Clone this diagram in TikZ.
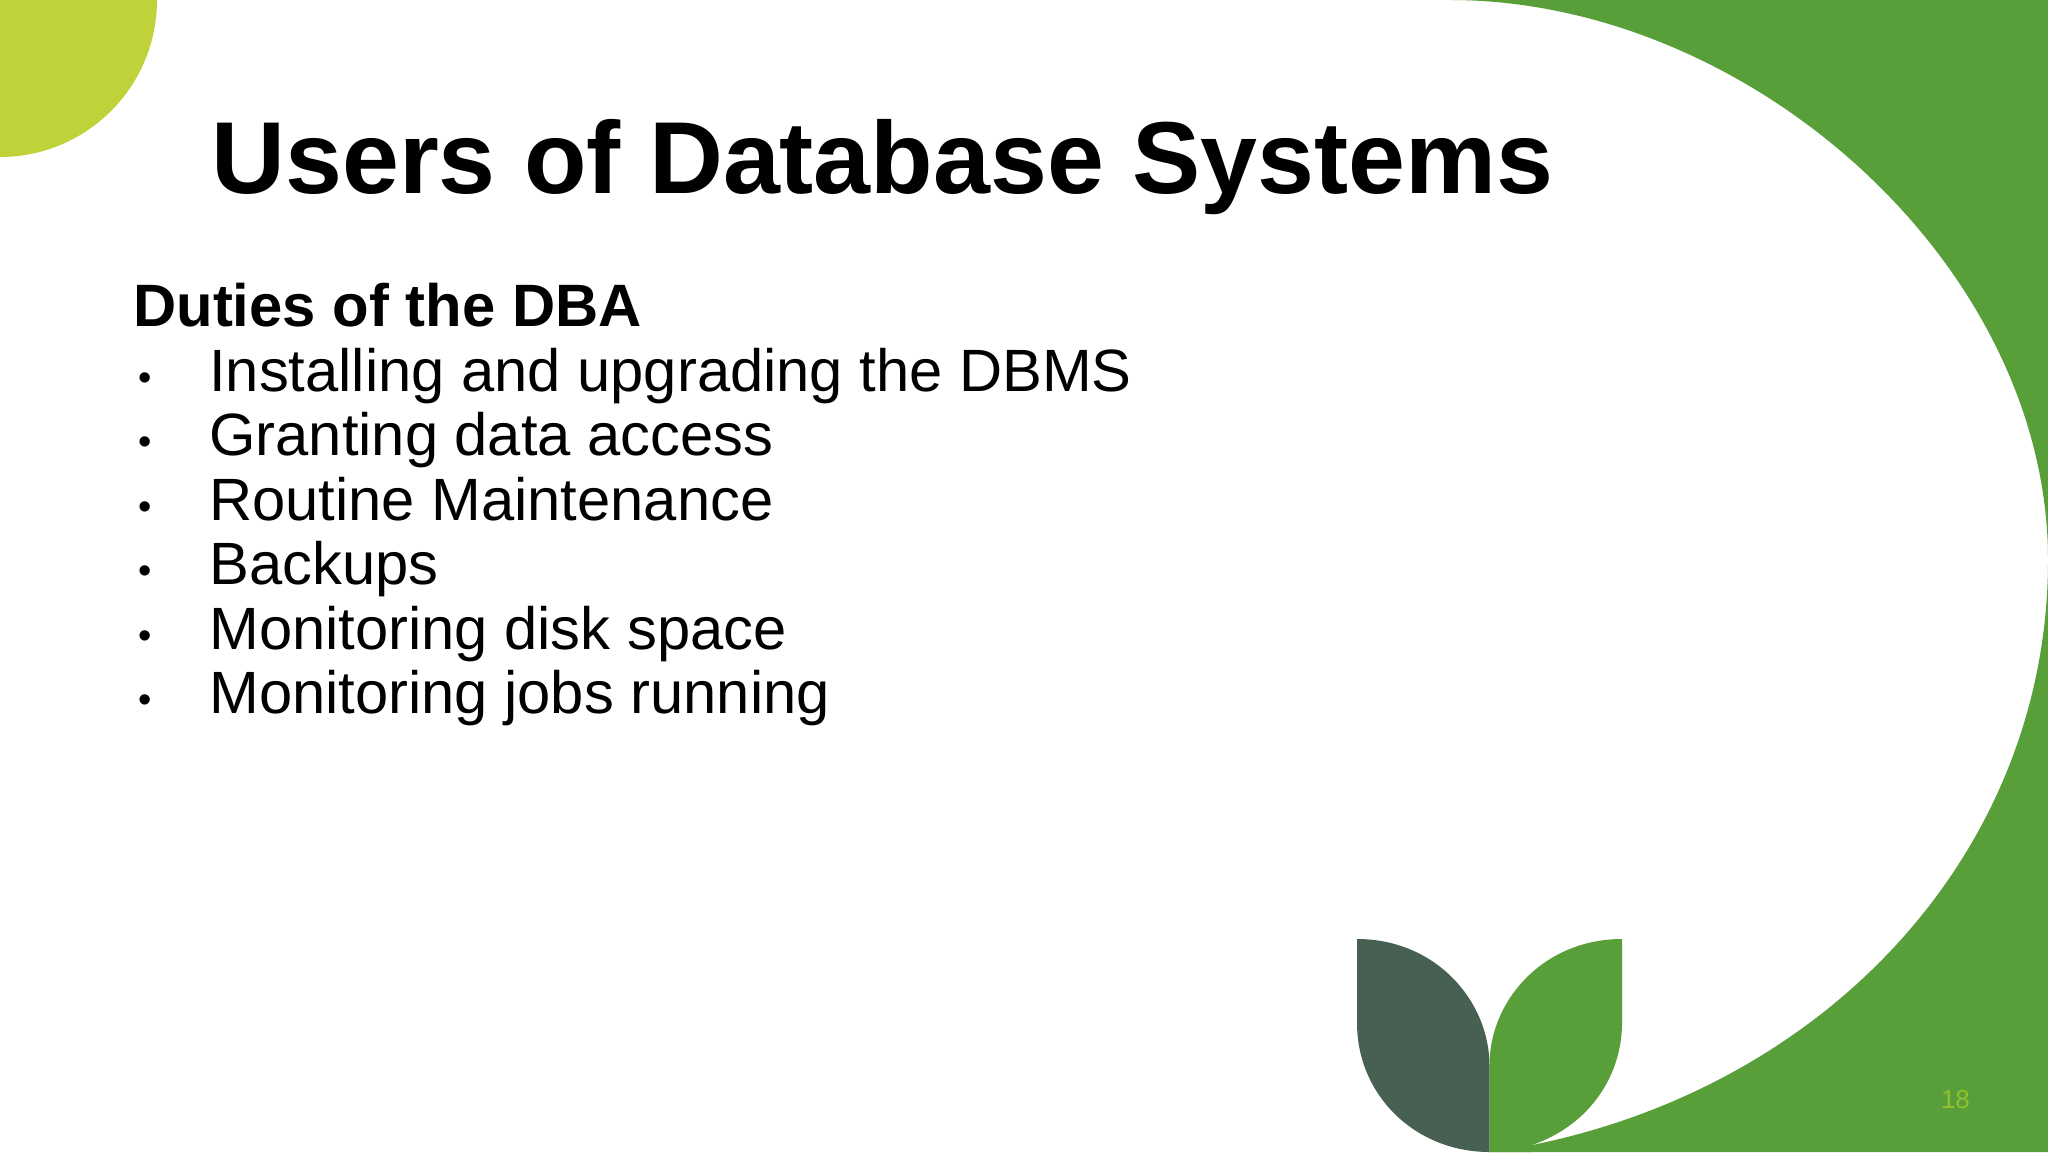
\documentclass[tikz,border=0pt]{standalone}
\usepackage{fontspec}
\setmainfont{Liberation Sans}
\definecolor{leafgreen}{HTML}{589F3A}
\definecolor{leafdark}{HTML}{486052}
\definecolor{lime}{HTML}{BFD239}
\definecolor{numgreen}{HTML}{92BF2E}
\tikzset{
  txt/.style={anchor=base west,inner sep=0pt,outer sep=0pt,text=black},
  titletxt/.style={txt,font=\fontsize{102.3}{102.3}\selectfont\bfseries},
  headtxt/.style={txt,font=\fontsize{59.8}{60}\selectfont\bfseries},
  itemtxt/.style={txt,font=\fontsize{59.7}{60}\selectfont},
  bullettxt/.style={txt,font=\fontsize{38}{38}\selectfont},
}
\begin{document}
\begin{tikzpicture}[x=1pt,y=-1pt]
\useasboundingbox (0,0) rectangle (2048,1152);
\fill[white] (0,0) rectangle (2048,1152);
% lime corner
\fill[lime] (0,0) -- (157,0) arc[start angle=0,end angle=90,radius=157] -- cycle;
% big green
\fill[leafgreen] (1450,0) .. controls (1750,0) and (2048,265) .. (2048,560)
  .. controls (2048,850) and (1830,1085) .. (1532,1145) -- (1489,1152) -- (2048,1152) -- (2048,0) -- cycle;
% leaves
\fill[leafdark] (1357,939) .. controls (1435,939) and (1489,1000) .. (1489.5,1065)
  -- (1489.5,1152) .. controls (1415,1152) and (1357,1095) .. (1357,1023) -- cycle;
\fill[leafgreen] (1622,939) .. controls (1544,939) and (1489.5,1000) .. (1489.5,1065)
  -- (1489.5,1152) -- (1532,1152) -- (1532,1145) .. controls (1590,1125) and (1622,1075) .. (1622,1023) -- cycle;
% text
\node[titletxt] (title) at (211.5,193) {Users of Database Systems};
\node[headtxt] (head) at (133.3,326.5) {Duties of the DBA};
\foreach \nm/\yy/\tx in {a/391/Installing and upgrading the DBMS,
  b/455.5/Granting data access,
  c/520/Routine Maintenance,
  d/584.5/Backups,
  e/649/Monitoring disk space,
  f/713.5/Monitoring jobs running}{
  \node[bullettxt] (b\nm) at (138.5,\yy-1) {•};
  \node[itemtxt] (i\nm) at (209.3,\yy) {\tx};
}
\node[txt,text=numgreen,font=\fontsize{26}{26}\selectfont] (num) at (1941,1108) {18};
\end{tikzpicture}
\end{document}
